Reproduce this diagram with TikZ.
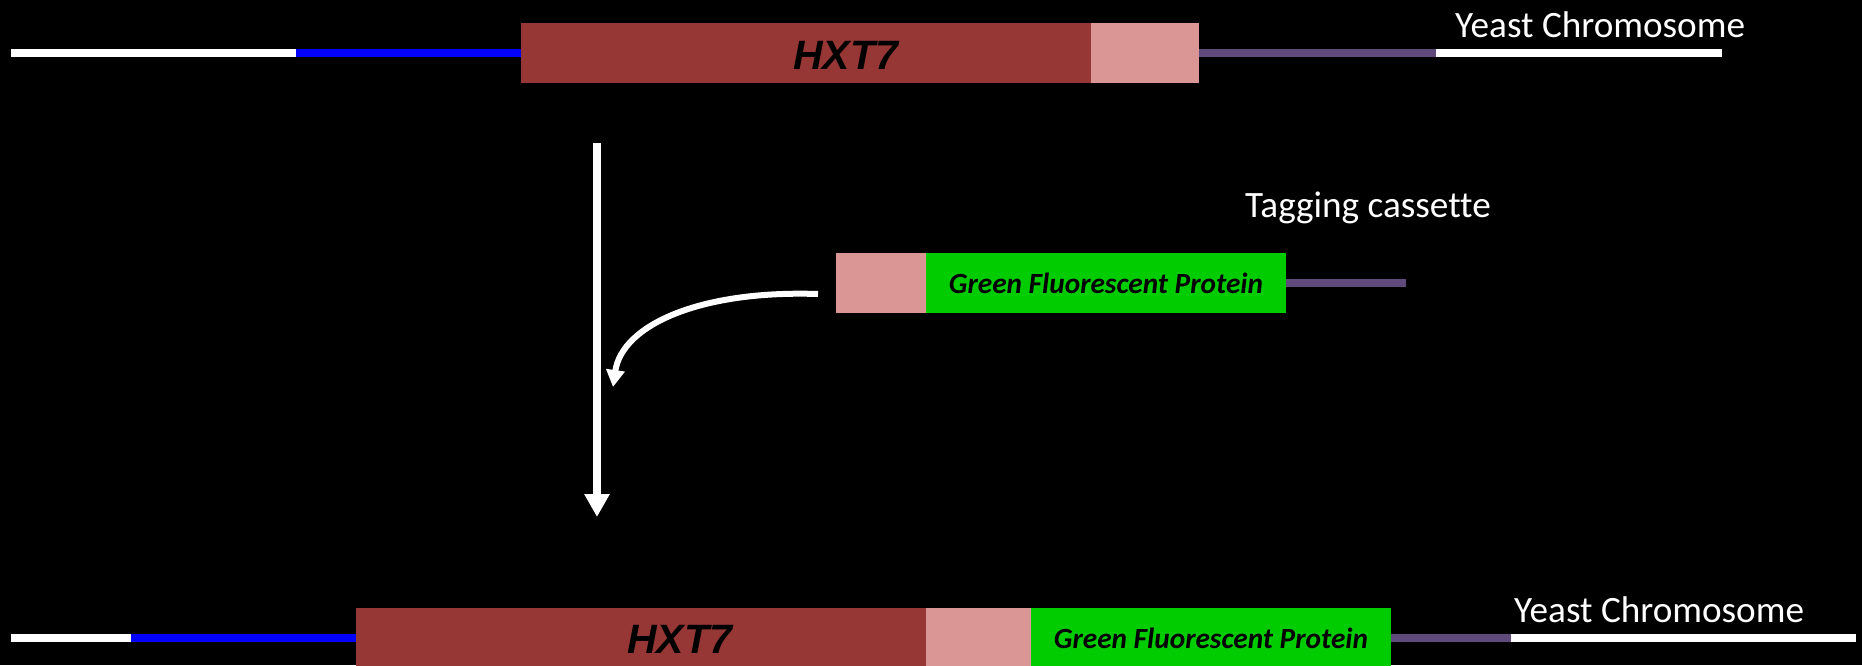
\documentclass[tikz,border=0pt]{standalone}
\usepackage{fontspec}
\setmainfont{Carlito}[Ligatures=NoCommon]
\newfontfamily\arialfont{Liberation Sans}
\usetikzlibrary{arrows.meta}
\definecolor{hxtred}{RGB}{150,55,53}
\definecolor{tagpink}{RGB}{217,150,148}
\definecolor{gfpgreen}{RGB}{0,204,0}
\definecolor{chrblue}{RGB}{0,0,255}
\definecolor{chrpurple}{RGB}{96,74,123}
\begin{document}
\begin{tikzpicture}[x=1pt,y=-1pt,
  seg/.style={inner sep=0pt, outer sep=0pt, minimum height=8pt, anchor=west},
  box/.style={inner sep=0pt, outer sep=0pt, minimum height=60pt, anchor=west},
  lbl/.style={text=white, font=\fontsize{37.2}{44}\selectfont, anchor=base west, inner sep=0pt},
  gene/.style={font=\arialfont\bfseries\itshape\fontsize{41}{48}\selectfont, anchor=base west, inner sep=0pt},
  gfp/.style={font=\bfseries\itshape\fontsize{29.3}{35}\selectfont, inner sep=0pt},
  bigarrow/.style={white, line width=8pt, -{Triangle[length=23pt,width=24pt]}},
  curvearrow/.style={white, line width=6pt, -{Triangle[length=17pt,width=18pt]}}
]
\fill[black] (0,0) rectangle (1862,665);
\useasboundingbox (0,0) rectangle (1862,665);
\clip (0,0) rectangle (1862,665);

% top row: original chromosome
\node[seg, fill=white, minimum width=285pt] (w1) at (11,53) {};
\node[seg, fill=chrblue, minimum width=225pt] (b1) at (296,53) {};
\node[box, fill=hxtred, minimum width=570pt] (h1) at (521,53) {};
\node[box, fill=tagpink, minimum width=108pt] (p1) at (1091,53) {};
\node[seg, fill=chrpurple, minimum width=237pt] (u1) at (1199,53) {};
\node[seg, fill=white, minimum width=286pt] (w2) at (1436,53) {};
\node[gene] (t1) at (793,69) {HXT7};
\node[lbl] (y1) at (1455,37) {Yeast Chromosome};

% tagging cassette
\node[lbl] (tc) at (1245,217) {Tagging cassette};
\node[box, fill=tagpink, minimum width=90pt] (p2) at (836,283) {};
\node[box, fill=gfpgreen, minimum width=360pt] (g2) at (926,283) {};
\node[gfp] (gt2) at (g2.center) {Green Fluorescent Protein};
\node[seg, fill=chrpurple, minimum width=120pt] (u2) at (1286,283) {};

% bottom row: tagged chromosome
\node[seg, fill=white, minimum width=120pt] (w3) at (11,638) {};
\node[seg, fill=chrblue, minimum width=225pt] (b3) at (131,638) {};
\node[box, fill=hxtred, minimum width=570pt] (h3) at (356,638) {};
\node[box, fill=tagpink, minimum width=105pt] (p3) at (926,638) {};
\node[box, fill=gfpgreen, minimum width=360pt] (g3) at (1031,638) {};
\node[gfp] (gt3) at (g3.center) {Green Fluorescent Protein};
\node[seg, fill=chrpurple, minimum width=120pt] (u3) at (1391,638) {};
\node[seg, fill=white, minimum width=345pt] (w4) at (1511,638) {};
\node[gene] (t3) at (627,653) {HXT7};
\node[lbl] (y3) at (1514,622) {Yeast Chromosome};

% arrows
\coordinate (vs) at (597,143);
\coordinate (ve) at (597,517);
\draw[bigarrow] (vs) -- (ve);
\coordinate (cs) at (818,294);
\coordinate (ce) at (613,387);
\draw[curvearrow] (cs) .. controls (700,290) and (622,325) .. (ce);
\end{tikzpicture}
\end{document}
